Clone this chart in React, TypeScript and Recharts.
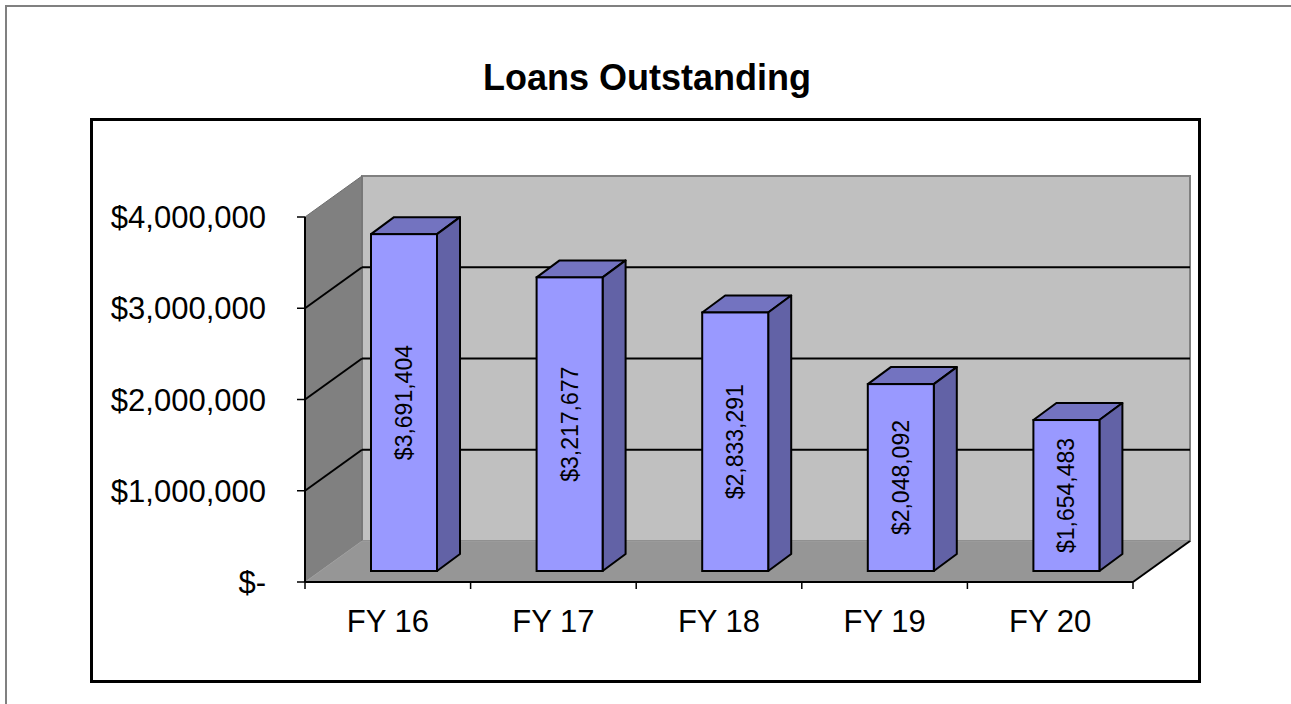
import React from "react";
import { BarChart, Bar, XAxis, YAxis, ReferenceArea } from "recharts";

const categories = ["FY 16", "FY 17", "FY 18", "FY 19", "FY 20"];
const loans = [3691404, 3217677, 2833291, 2048092, 1654483];
const yTicks = [0, 1000000, 2000000, 3000000, 4000000];
const title = "Loans Outstanding";

const data = categories.map((c, i) => ({ name: c, value: loans[i] }));
const FONT = "'Liberation Sans', Arial, sans-serif";
const yMax = yTicks[yTicks.length - 1];

const fmt = (v: number) => (v === 0 ? "$-" : "$" + v.toLocaleString("en-US"));

// 3D depth of the walls and of the bars
const WDX = 57;
const WDY = -41;
const BOX = 16;
const BOY = -11;
const BDX = 23;
const BDY = -17;

const Walls = (props: any) => {
  const { x, y, width, height } = props;
  const bottom = y + height;
  const right = x + width;
  const grid = yTicks
    .filter((t) => t > 0 && t < yMax)
    .map((t) => bottom - (height * t) / yMax);
  const n = categories.length;
  const xt = Array.from({ length: n + 1 }, (_, k) => x + (width * k) / n);
  return (
    <g>
      <polygon
        points={`${x + WDX},${y + WDY} ${right + WDX},${y + WDY} ${right + WDX},${bottom + WDY} ${x + WDX},${bottom + WDY}`}
        fill="#c0c0c0"
        stroke="#808080"
        strokeWidth={2}
      />
      <polygon
        points={`${x},${y} ${x + WDX},${y + WDY} ${x + WDX},${bottom + WDY} ${x},${bottom}`}
        fill="#808080"
        stroke="#6e6e6e"
        strokeWidth={1}
      />
      <polygon
        points={`${x},${bottom} ${right},${bottom} ${right + WDX},${bottom + WDY} ${x + WDX},${bottom + WDY}`}
        fill="#969696"
        stroke="#a0a0a0"
        strokeWidth={1}
      />
      {grid.map((gy, i) => (
        <g key={i}>
          <line x1={x} y1={gy} x2={x + WDX} y2={gy + WDY} stroke="#000" strokeWidth={2} />
          <line x1={x + WDX} y1={gy + WDY} x2={right + WDX} y2={gy + WDY} stroke="#000" strokeWidth={2} />
        </g>
      ))}
      <line x1={right} y1={bottom} x2={right + WDX} y2={bottom + WDY} stroke="#000" strokeWidth={2} />
      <line x1={x} y1={bottom} x2={right} y2={bottom} stroke="#000" strokeWidth={2} />
      <line x1={x} y1={y} x2={x} y2={bottom} stroke="#000" strokeWidth={2} />
      {xt.map((tx, i) => (
        <line key={i} x1={tx} y1={bottom} x2={tx} y2={bottom + 7} stroke="#000" strokeWidth={1.5} />
      ))}
    </g>
  );
};

const Bar3D = (props: any) => {
  const { x, y, width: w, height: h, payload } = props;
  const fx = x + BOX;
  const fy = y + BOY;
  const cx = fx + w / 2;
  const cy = fy + h / 2;
  return (
    <g>
      <polygon
        points={`${fx},${fy} ${fx + BDX},${fy + BDY} ${fx + w + BDX},${fy + BDY} ${fx + w},${fy}`}
        fill="#7373c0"
        stroke="#000"
        strokeWidth={2}
        strokeLinejoin="round"
      />
      <polygon
        points={`${fx + w},${fy} ${fx + w + BDX},${fy + BDY} ${fx + w + BDX},${fy + h + BDY} ${fx + w},${fy + h}`}
        fill="#6262a6"
        stroke="#000"
        strokeWidth={2}
        strokeLinejoin="round"
      />
      <rect x={fx} y={fy} width={w} height={h} fill="#9999ff" stroke="#000" strokeWidth={2} />
      <text
        x={cx}
        y={cy}
        transform={`rotate(-90 ${cx} ${cy})`}
        textAnchor="middle"
        dominantBaseline="central"
        fontSize={23}
        fontFamily={FONT}
        fill="#000"
      >
        {fmt(payload.value)}
      </text>
    </g>
  );
};

export default function App() {
  return (
    <div
      style={{
        position: "absolute",
        left: 0,
        top: 0,
        width: 1291,
        height: 704,
        overflow: "hidden",
        background: "#fff",
        fontFamily: FONT,
      }}
    >
      <div
        style={{
          position: "absolute",
          left: 5,
          top: 5,
          width: 1400,
          height: 800,
          borderLeft: "2px solid #808080",
          borderTop: "2px solid #808080",
        }}
      />
      <div
        style={{
          position: "absolute",
          left: 90,
          top: 118,
          width: 1111,
          height: 565,
          border: "3px solid #000",
          boxSizing: "border-box",
        }}
      />
      <div
        style={{
          position: "absolute",
          left: 347,
          top: 60,
          width: 600,
          textAlign: "center",
          fontWeight: "bold",
          fontSize: 36,
          lineHeight: "36px",
          color: "#000",
        }}
      >
        {title}
      </div>
      <div style={{ position: "absolute", left: 0, top: 0 }}>
        <BarChart
          width={1291}
          height={704}
          data={data}
          margin={{ top: 217, right: 158, bottom: 62, left: 105 }}
          barSize={66}
        >
          <XAxis
            dataKey="name"
            height={60}
            axisLine={false}
            tickLine={false}
            tickSize={0}
            tickMargin={28}
            tick={{ fontSize: 31, fill: "#000", fontFamily: FONT }}
            interval={0}
          />
          <YAxis
            width={200}
            domain={[0, yMax]}
            ticks={yTicks}
            interval={0}
            tickFormatter={fmt}
            axisLine={false}
            tickLine={{ stroke: "#000", strokeWidth: 1.5 }}
            tickSize={8}
            tickMargin={31}
            tick={{ fontSize: 31, fill: "#000", fontFamily: FONT }}
          />
          <ReferenceArea y1={0} y2={yMax} shape={Walls} ifOverflow="visible" />
          <Bar dataKey="value" shape={Bar3D} isAnimationActive={false} />
        </BarChart>
      </div>
    </div>
  );
}
